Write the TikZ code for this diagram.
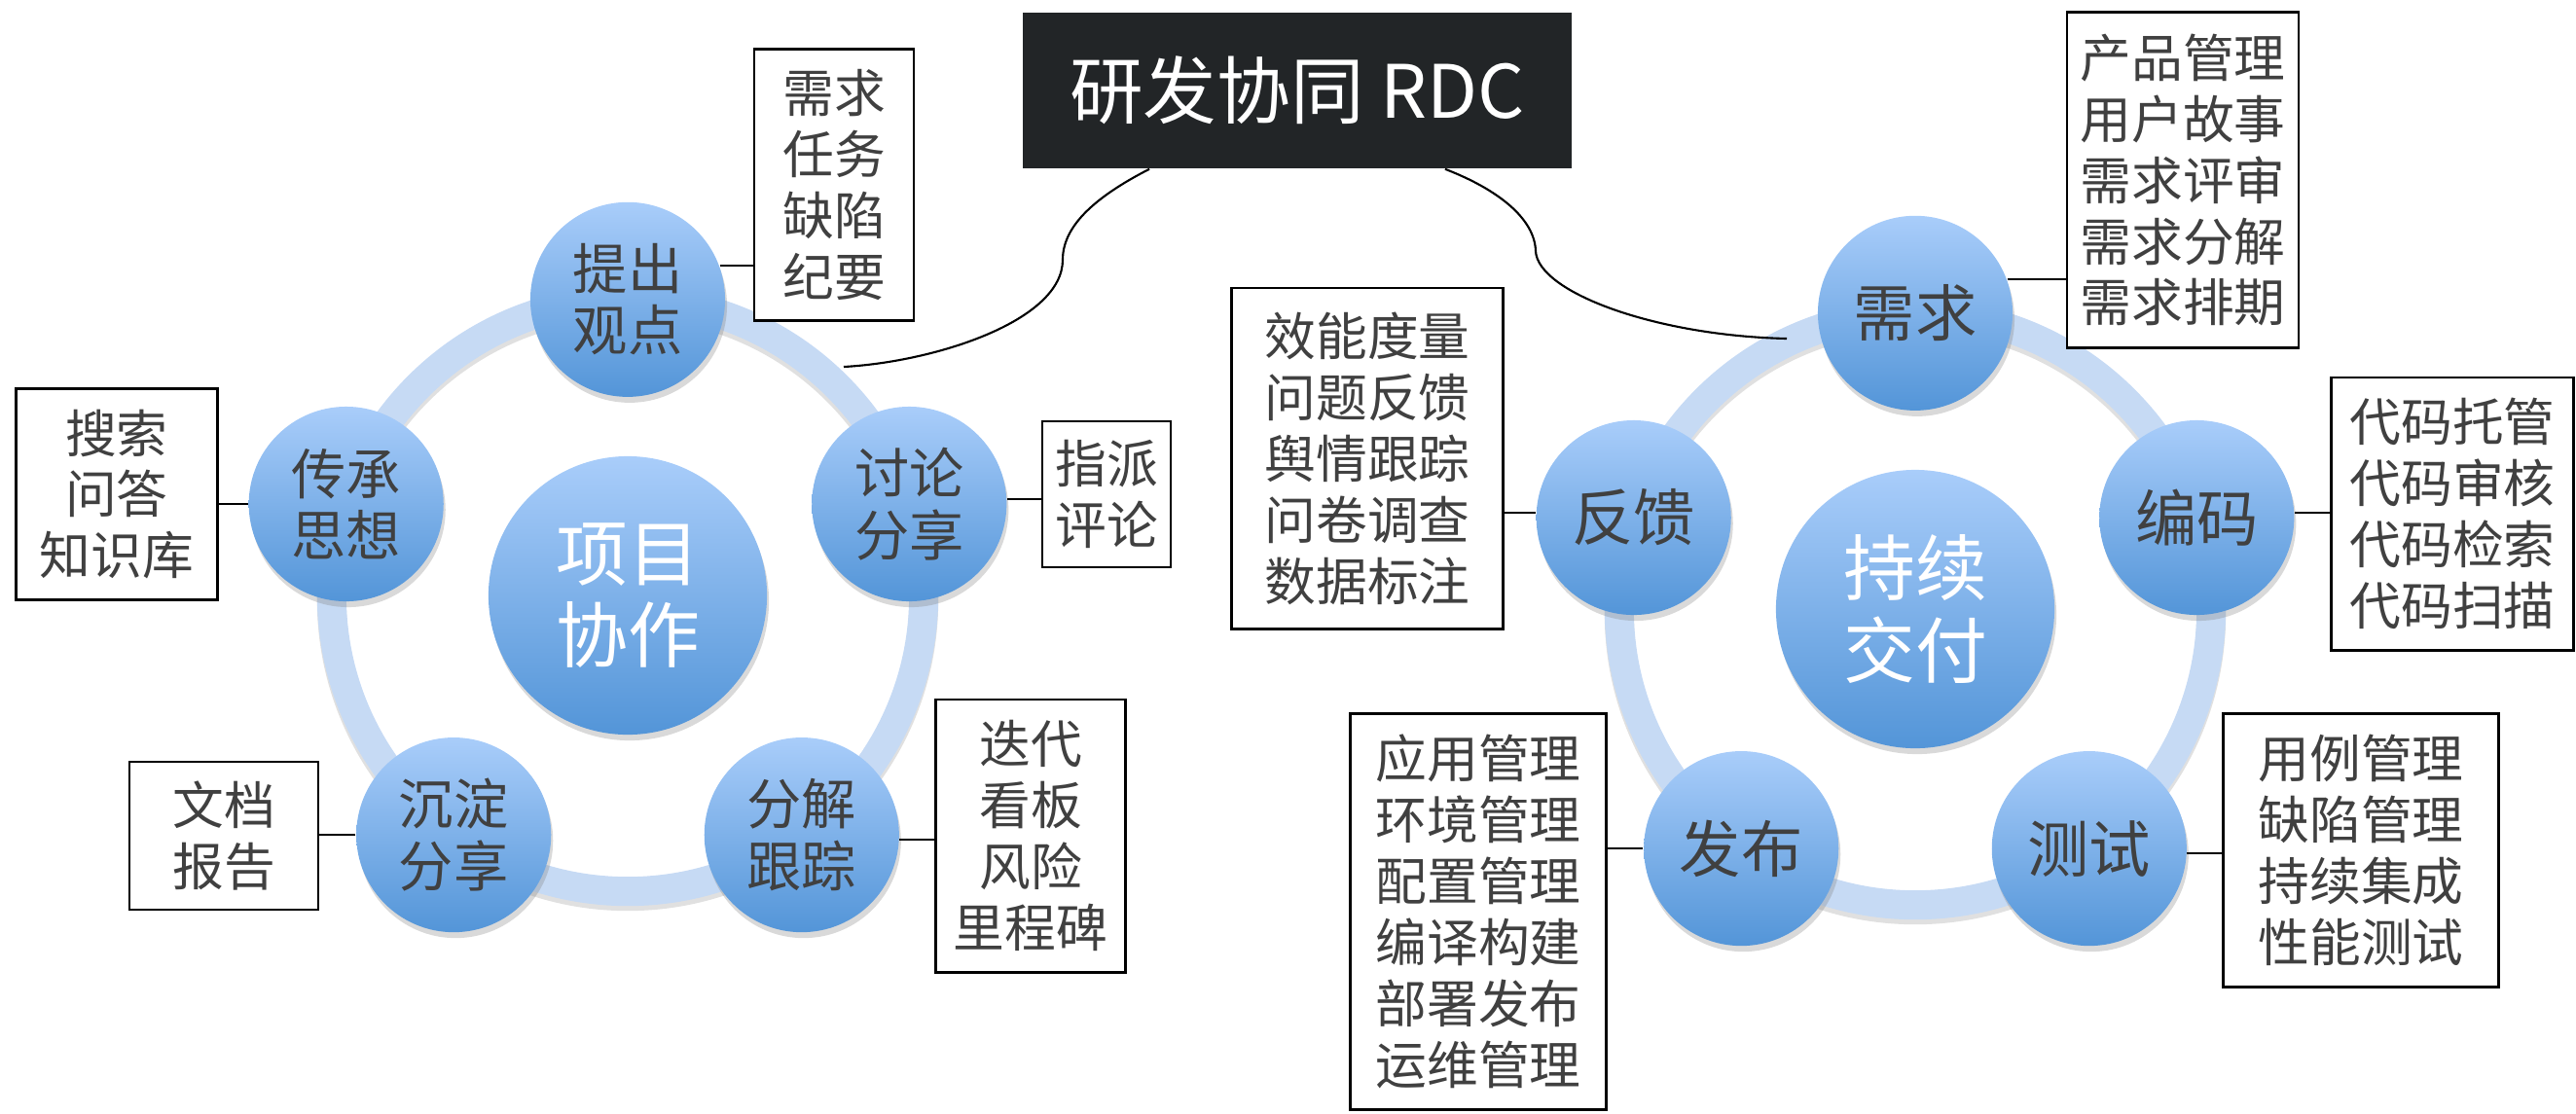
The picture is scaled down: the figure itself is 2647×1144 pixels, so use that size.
\documentclass[tikz,border=0pt]{standalone}
\usepackage{fontspec}
\newfontfamily\cjk{Noto Sans CJK SC}
\usetikzlibrary{shadows}
\definecolor{balltop}{HTML}{A9CDFA}
\definecolor{ballbot}{HTML}{5395D8}
\definecolor{ringblue}{HTML}{C6DAF4}
\definecolor{inkgray}{HTML}{404040}
\definecolor{titlebg}{HTML}{222527}
\begin{document}
\begin{tikzpicture}[x=0.01cm,y=-0.01cm,
    ball/.style={circle,minimum size=2cm,inner sep=0pt,top color=balltop,bottom color=ballbot,
      drop shadow={shadow xshift=0.02cm,shadow yshift=-0.06cm,opacity=0.3},
      text=inkgray,align=center,font=\cjk\fontsize{16}{18}\selectfont},
    bigball/.style={ball,font=\cjk\fontsize{18}{20}\selectfont},
    hub/.style={ball,minimum size=2.86cm,text=white,font=\cjk\fontsize{21}{24}\selectfont},
    tag/.style={draw=black,line width=0.8pt,fill=white,inner sep=0pt,text=inkgray,align=center,
      font=\cjk\fontsize{15}{17.9}\selectfont},
    ring/.style={line width=0.3cm,ringblue},
    link/.style={line width=0.6pt}]
  \useasboundingbox (0,0) rectangle (2647,1144);
  \coordinate (lc) at (645,612);
  \coordinate (rc) at (1968,626);
  \draw[ring,black,opacity=0.12] ([yshift=-0.05cm]lc) circle (3.04cm);
  \draw[ring,black,opacity=0.12] ([yshift=-0.05cm]rc) circle (3.04cm);
  \draw[ring] (lc) circle (3.04cm);
  \draw[ring] (rc) circle (3.04cm);

  \node[fill=titlebg,text=white,minimum width=5.64cm,minimum height=1.6cm,
    font=\cjk\fontsize{21.5}{24}\selectfont] (rdc) at (1333,93) {研发协同 RDC};

  \node[hub] (xmxz) at (lc) {项目\\协作};
  \path (lc)
    +(90:3.04cm) node[ball] (tcgd){提出\\观点}
    +(18:3.04cm) node[ball] (tlfx){讨论\\分享}
    +(-54:3.04cm) node[ball] (fjgz){分解\\跟踪}
    +(-126:3.04cm) node[ball] (cdfx){沉淀\\分享}
    +(162:3.04cm) node[ball] (cczs){传承\\思想};

  \node[hub] (cxjf) at (rc) {持续\\交付};
  \path (rc)
    +(90:3.04cm) node[bigball] (xq){需求}
    +(18:3.04cm) node[bigball] (bm){编码}
    +(-54:3.04cm) node[bigball] (cs){测试}
    +(-126:3.04cm) node[bigball] (fb){发布}
    +(162:3.04cm) node[bigball] (fk){反馈};

  \node[tag,minimum width=1.64cm,minimum height=2.79cm] (xqbox) at (857,190) {需求\\任务\\缺陷\\纪要};
  \node[tag,minimum width=1.32cm,minimum height=1.5cm] (zpbox) at (1137,508) {指派\\评论};
  \node[tag,minimum width=1.95cm,minimum height=2.8cm] (ddbox) at (1059,859) {迭代\\看板\\风险\\里程碑};
  \node[tag,minimum width=1.94cm,minimum height=1.52cm] (wdbox) at (230,859) {文档\\报告};
  \node[tag,minimum width=2.07cm,minimum height=2.17cm] (ssbox) at (120,508) {搜索\\问答\\知识库};

  \node[tag,minimum width=2.38cm,minimum height=3.45cm] (cpbox) at (2243,185) {产品管理\\用户故事\\需求评审\\需求分解\\需求排期};
  \node[tag,minimum width=2.49cm,minimum height=2.8cm] (dmbox) at (2520,528) {代码托管\\代码审核\\代码检索\\代码扫描};
  \node[tag,minimum width=2.83cm,minimum height=2.81cm] (ylbox) at (2426,874) {用例管理\\缺陷管理\\持续集成\\性能测试};
  \node[tag,minimum width=2.63cm,minimum height=4.06cm] (yybox) at (1519,937) {应用管理\\环境管理\\配置管理\\编译构建\\部署发布\\运维管理};
  \node[tag,minimum width=2.79cm,minimum height=3.5cm] (xnbox) at (1405,471) {效能度量\\问题反馈\\舆情跟踪\\问卷调查\\数据标注};

  \coordinate (lend) at (867,377);
  \coordinate (rend) at (1836,348);
  \begin{scope}[link]
    \draw (rdc.-152) .. controls (1120,205) and (1092,235) .. (1092,267)
      .. controls (1092,330) and (960,372) .. (lend);
    \draw (rdc.-28.6) .. controls (1540,195) and (1577,225) .. (1578,258)
      .. controls (1580,300) and (1700,345) .. (rend);
    \draw (tcgd.20) -- (tcgd.20 -| xqbox.west);
    \draw (tlfx.3) -- (tlfx.3 -| zpbox.west);
    \draw (fjgz.-3) -- (fjgz.-3 -| ddbox.west);
    \draw (cdfx.west) -- (cdfx.west -| wdbox.east);
    \draw (cczs.west) -- (cczs.west -| ssbox.east);
    \draw (xq.20) -- (xq.20 -| cpbox.west);
    \draw (bm.3) -- (bm.3 -| dmbox.west);
    \draw (cs.-3) -- (cs.-3 -| ylbox.west);
    \draw (fb.west) -- (fb.west -| yybox.east);
    \draw (fk.177) -- (fk.177 -| xnbox.east);
  \end{scope}
\end{tikzpicture}
\end{document}
